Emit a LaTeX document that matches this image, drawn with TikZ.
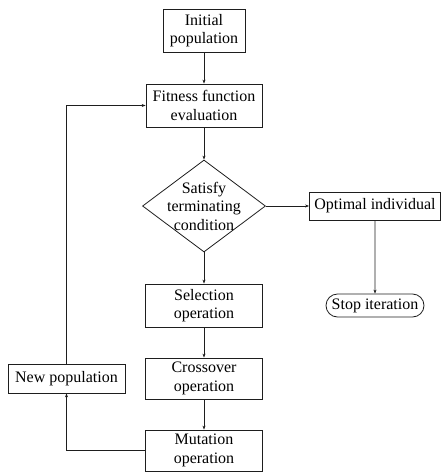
\documentclass[tikz,border=0pt]{standalone}
\usepackage{fontspec}
\setmainfont{Liberation Serif}
\usepackage{tikz}
\usetikzlibrary{positioning,arrows.meta,shapes.geometric,shapes.misc,calc}
\definecolor{flowline}{RGB}{30,30,30}

\begin{document}
\begin{tikzpicture}[x=1pt,y=-1pt,
    box/.style={draw=flowline,line width=0.8pt,rectangle,inner sep=0pt,align=center,
                font=\fontsize{16}{18.5}\selectfont},
    decision/.style={draw=flowline,line width=0.8pt,diamond,inner sep=0pt,
                minimum width=123pt,minimum height=92pt},
    term/.style={draw=flowline,line width=0.8pt,rounded rectangle,inner sep=0pt,
                font=\fontsize{16}{18.5}\selectfont},
    arr/.style={draw=flowline,line width=0.8pt,-{Stealth[length=4pt,width=3pt]}}]
  \useasboundingbox (0,0) rectangle (442,472);

  % ── Main column ──
  \node[box,minimum width=82pt,minimum height=43pt] (init) at (204,30.5) {Initial\\population};
  \node[box,minimum width=116pt,minimum height=43pt] (fit) at (204,105.5) {Fitness function\\evaluation};
  \node[decision,label={[font=\fontsize{16}{18.5}\selectfont,align=center]center:Satisfy\\terminating\\condition}] (cond) at (204,206) {};
  \node[box,minimum width=117pt,minimum height=43pt] (sel) at (204,305.5) {Selection\\operation};
  \node[box,minimum width=117pt,minimum height=41pt] (cross) at (204,378.5) {Crossover\\operation};
  \node[box,minimum width=117pt,minimum height=41pt] (mut) at (204,450.5) {Mutation\\operation};

  % ── Exit branch ──
  \node[box,minimum width=131pt,minimum height=28pt] (opt) at (375,206) {Optimal individual};
  \node[term,minimum width=98pt,minimum height=23pt] (stop) at (375,305.5) {Stop iteration};

  % ── Loop back ──
  \node[box,minimum width=117pt,minimum height=29pt] (newp) at (66.5,378.5) {New population};

  % ── Connectors ──
  \draw[arr] (init) -- (fit);
  \draw[arr] (fit) -- (cond);
  \draw[arr] (cond) -- (sel);
  \draw[arr] (sel) -- (cross);
  \draw[arr] (cross) -- (mut);
  \draw[arr] (cond) -- (opt);
  \draw[arr] (opt) -- (stop);
  \draw[arr] (mut.west) -| (newp.south);
  \draw[arr] (newp.north) |- (fit.west);
\end{tikzpicture}
\end{document}
